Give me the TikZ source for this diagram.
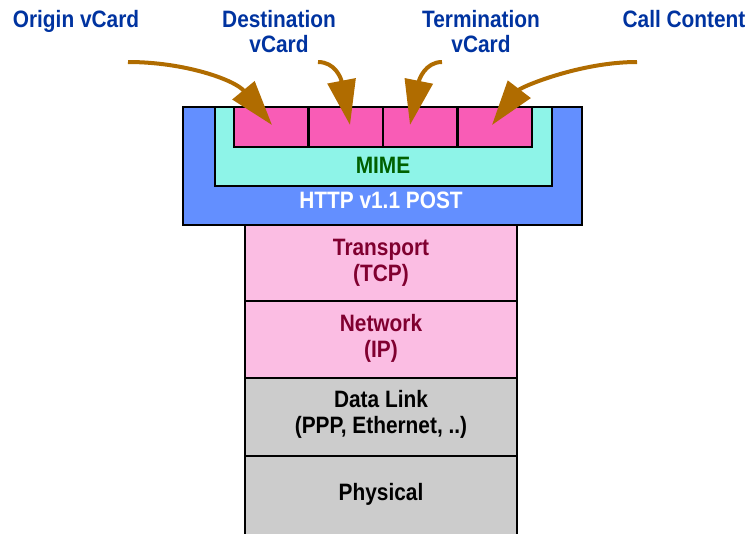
\documentclass[tikz,border=0pt]{standalone}
\usepackage{fontspec}
\setmainfont{Liberation Sans}[FakeStretch=0.88]
\usetikzlibrary{arrows.meta}
\definecolor{httpblue}{HTML}{638FFF}
\definecolor{mimeaqua}{HTML}{8EF4E8}
\definecolor{boxpink}{HTML}{F95CB6}
\definecolor{lightpink}{HTML}{FBBDE3}
\definecolor{lgray}{HTML}{CCCCCC}
\definecolor{arrbrown}{HTML}{B06C00}
\definecolor{lblblue}{HTML}{0033A0}
\definecolor{mimegreen}{HTML}{006000}
\definecolor{darkred}{HTML}{800030}
\begin{document}
\begin{tikzpicture}[x=1pt,y=-1pt,
  txt/.style={font=\fontsize{23.7}{25}\selectfont\bfseries, inner sep=0pt, align=center},
  stxt/.style={font=\fontsize{23.7}{26}\selectfont\bfseries, inner sep=0pt, align=center, anchor=base},
  layer/.style={draw=black, line width=2.8pt, rectangle, inner sep=0pt, minimum width=272pt},
  card/.style={draw=black, fill=boxpink, line width=2.5pt, rectangle, inner sep=0pt,
    minimum width=74.5pt, minimum height=40pt},
  feed/.style={draw=arrbrown, line width=4pt, -{Triangle[length=45pt,width=28pt]}}]
\useasboundingbox (0,0) rectangle (751,533);
% HTTP and MIME containers
\node[draw=black, fill=httpblue, line width=2.8pt, rectangle, inner sep=0pt,
  minimum width=399pt, minimum height=118pt] (http) at (382.5,166) {};
\node[draw=black, fill=mimeaqua, line width=2.8pt, rectangle, inner sep=0pt,
  minimum width=337pt, minimum height=79pt] (mime) at (383.5,146.5) {};
\node[card] (c1) at (271,127) {};
\node[card] (c2) at (345.5,127) {};
\node[card] (c3) at (420,127) {};
\node[card] (c4) at (494.5,127) {};
\node[txt, text=mimegreen, anchor=base] (mimet) at (383,173) {MIME};
\node[txt, text=white, anchor=base] (httpt) at (381,208) {HTTP v1.1 POST};
% protocol stack
\node[layer, fill=lightpink, minimum height=76pt] (tcp) at (381,263) {};
\node[layer, fill=lightpink, minimum height=77pt] (ip) at (381,339.5) {};
\node[layer, fill=lgray, minimum height=78pt] (dl) at (381,417) {};
\node[layer, fill=lgray, minimum height=84pt] (phy) at (381,498) {};
\node[stxt, text=darkred] (tcpt) at (381,281) {Transport\\(TCP)};
\node[stxt, text=darkred] (ipt) at (381,357) {Network\\(IP)};
\node[stxt, text=black] (dlt) at (381,433) {Data Link\\(PPP, Ethernet, ..)};
\node[stxt, text=black] (phyt) at (381,500) {Physical};
% labels
\node[txt, text=lblblue, anchor=base] (lo) at (76,27) {Origin vCard};
\node[txt, text=lblblue, anchor=base] (ld) at (279,52) {Destination\\vCard};
\node[txt, text=lblblue, anchor=base] (lt) at (481,52) {Termination\\vCard};
\node[txt, text=lblblue, anchor=base] (lc) at (684,27) {Call Content};
% arrows
\coordinate (so) at (128,62);
\coordinate (sd) at (318,62);
\coordinate (st) at (442,62);
\coordinate (sc) at (637,62);
\coordinate (to) at (272,125);
\coordinate (td) at (350,125);
\coordinate (tt) at (410,125);
\coordinate (tc) at (492,125);
\draw[feed] (so) .. controls (185,62) and (235,80) .. (to);
\draw[feed] (sd) .. controls (335,62) and (341,78) .. (td);
\draw[feed] (st) .. controls (425,62) and (419,80) .. (tt);
\draw[feed] (sc) .. controls (580,62) and (521,87) .. (tc);
\end{tikzpicture}
\end{document}
